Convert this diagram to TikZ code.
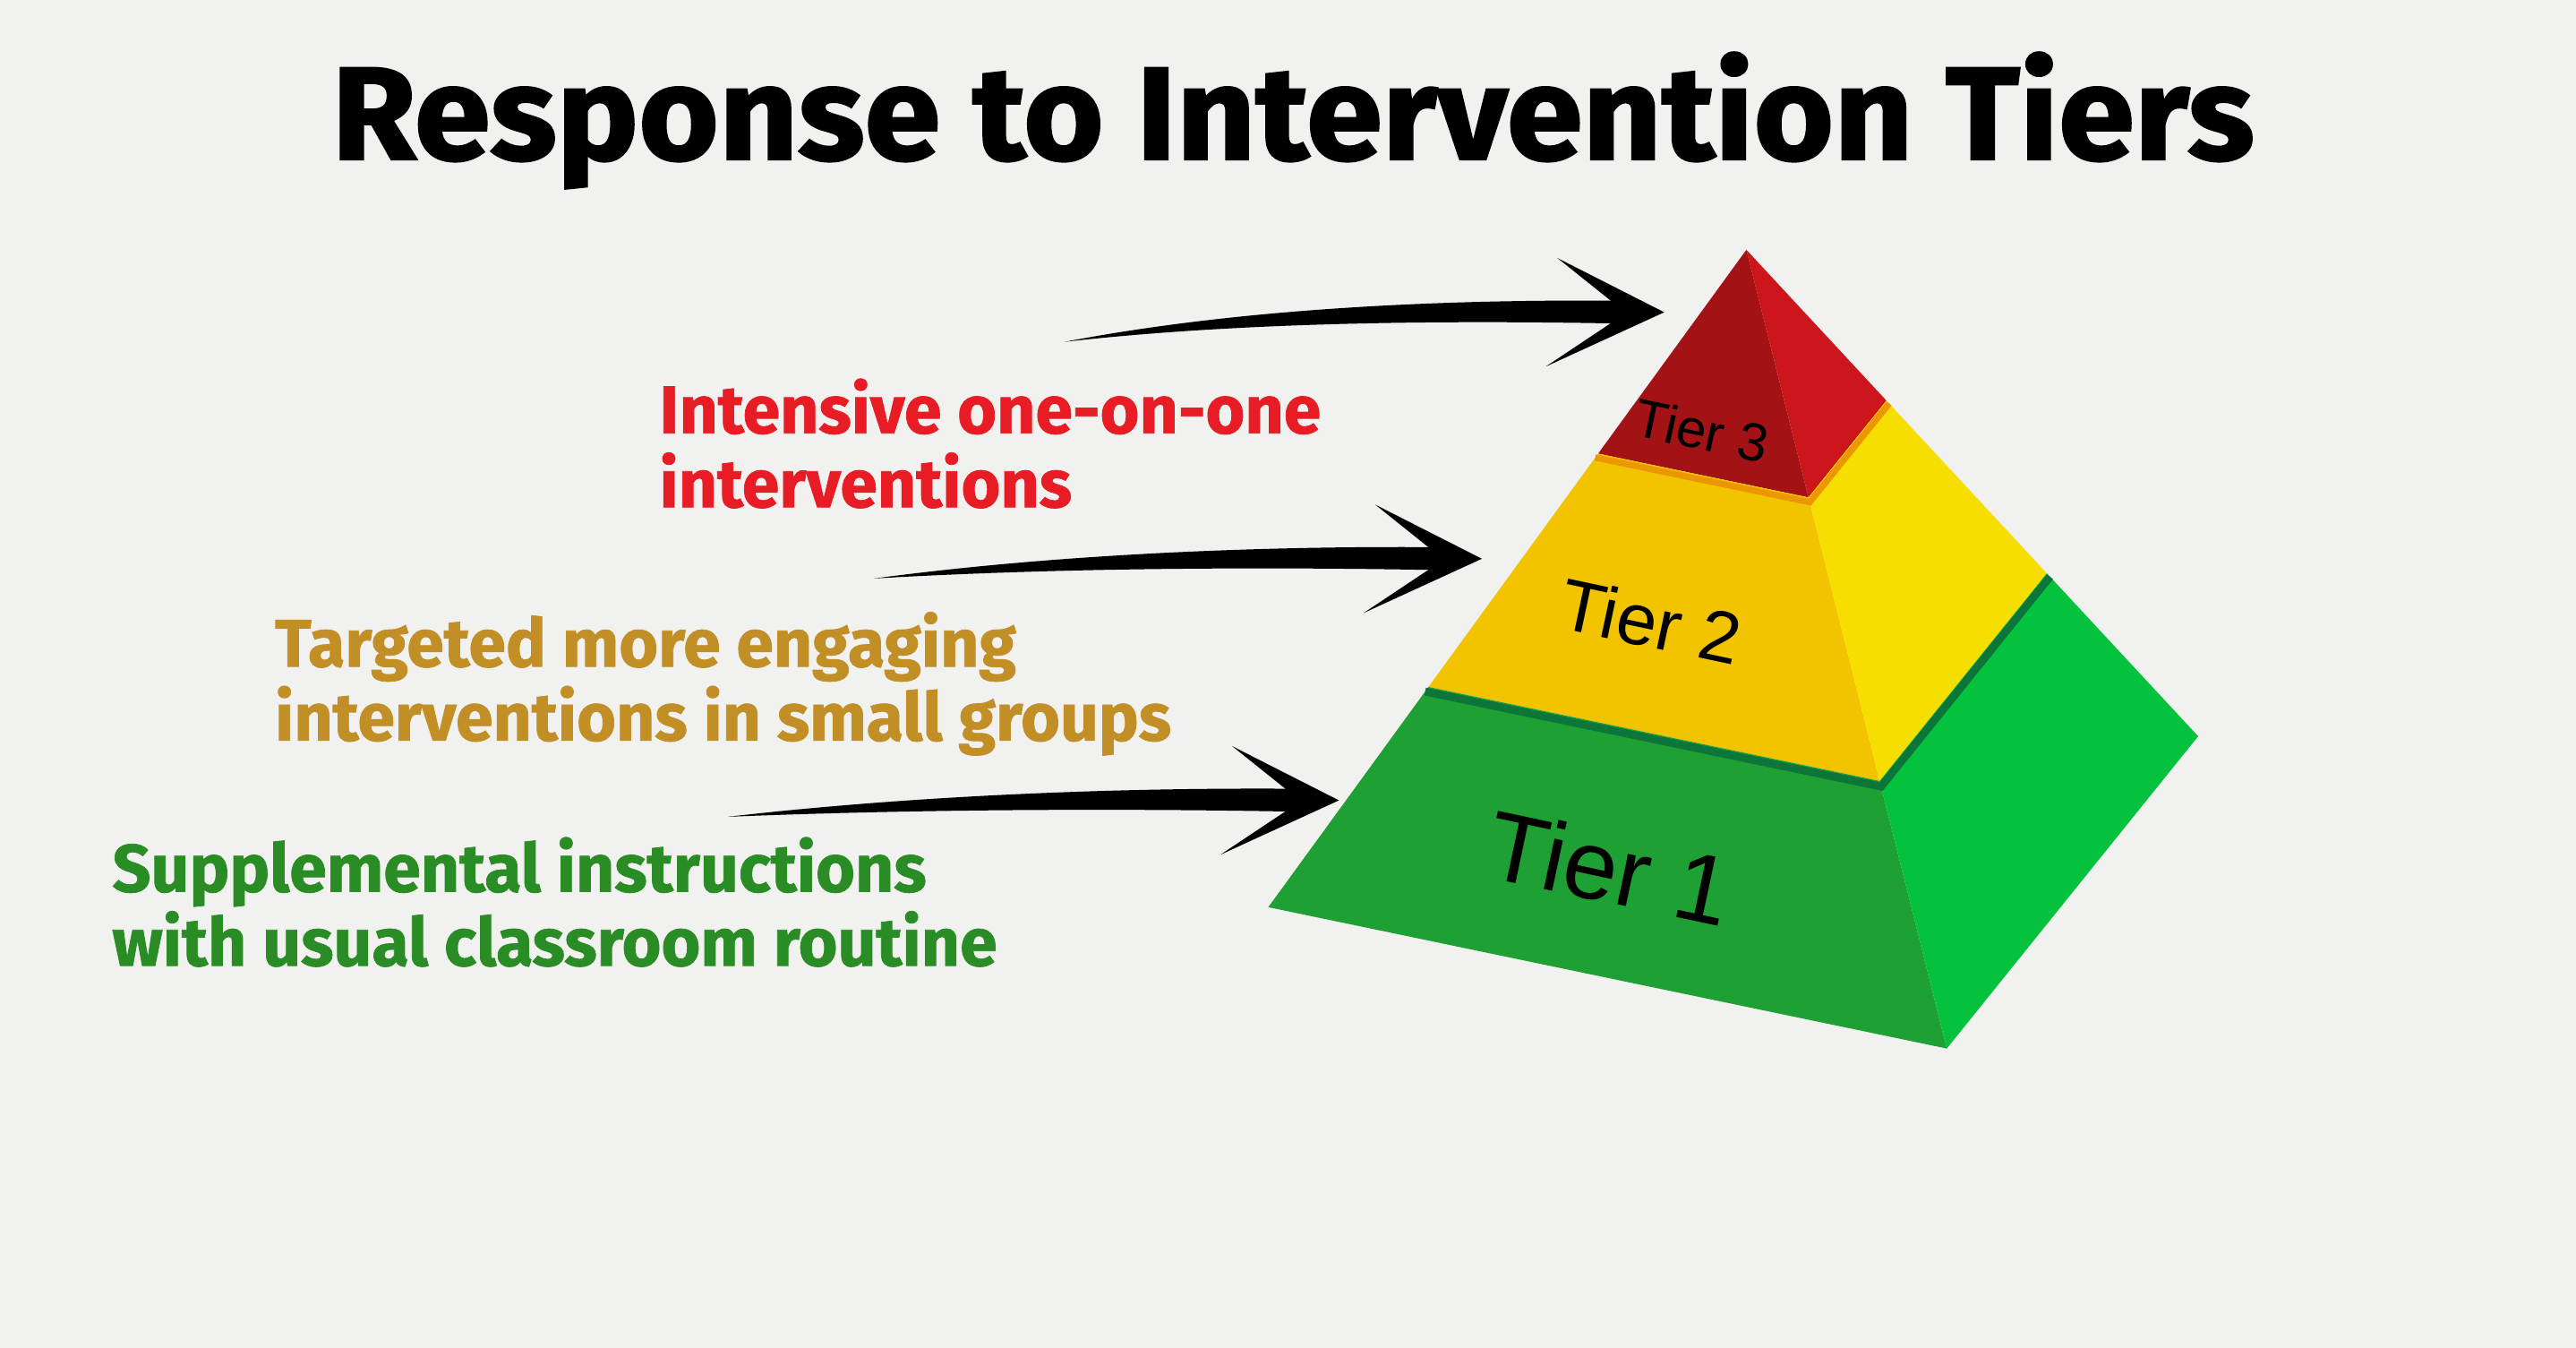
\documentclass[tikz,border=0pt]{standalone}
\usepackage{fontspec}
\usepackage{tikz}
\usetikzlibrary{calc}
\setmainfont{Liberation Sans}
\newfontfamily\headfont[FakeStretch=1.04, FakeBold=1.5]{Fira Sans}
\newfontfamily\notefont[FakeBold=1]{Fira Sans}
\definecolor{paper}{RGB}{241,241,239}
\definecolor{redL}{RGB}{163,18,20}
\definecolor{redR}{RGB}{204,22,28}
\definecolor{yelL}{RGB}{242,196,0}
\definecolor{yelR}{RGB}{246,222,0}
\definecolor{grnL}{RGB}{30,160,52}
\definecolor{grnR}{RGB}{4,194,62}
\definecolor{bandO}{RGB}{236,150,0}
\definecolor{bandG}{RGB}{12,118,58}
\definecolor{noteRed}{RGB}{232,28,36}
\definecolor{noteGold}{RGB}{194,142,38}
\definecolor{noteGreen}{RGB}{42,140,36}

\begin{document}
\begin{tikzpicture}[x=0.01835cm, y=-0.01835cm,
  tierlabel/.style={inner sep=0, rotate=-12, text=black},
  note/.style={anchor=north west, inner sep=0, align=left,
    font=\notefont\bfseries\fontsize{21.4}{23.5}\selectfont},
  brush/.style={fill=black}]

  % Paper
  \fill[paper] (0,0) rectangle (1568,820);
  \useasboundingbox (0,0) rectangle (1568,820);

  % Title
  \node[font=\headfont\bfseries\fontsize{42}{42}\selectfont, anchor=base] (title) at (787,97) {Response to Intervention Tiers};

  % Pyramid corners
  \coordinate (apex) at (1063,152);
  \coordinate (L) at (772,552);
  \coordinate (F) at (1185,638);
  \coordinate (R) at (1338,448);

  % Tiers
  \foreach \s/\e/\cl/\cr in {0/0.31/redL/redR, 0.31/0.665/yelL/yelR, 0.665/1/grnL/grnR} {
    \fill[\cl] ($(apex)!\s!(L)$) -- ($(apex)!\s!(F)$) -- ($(apex)!\e!(F)$) -- ($(apex)!\e!(L)$) -- cycle;
    \fill[\cr] ($(apex)!\s!(F)$) -- ($(apex)!\s!(R)$) -- ($(apex)!\e!(R)$) -- ($(apex)!\e!(F)$) -- cycle;
  }

  % Bands
  \draw[bandO, line width=2pt] ($(apex)!0.316!(L)$) -- ($(apex)!0.316!(F)$) -- ($(apex)!0.316!(R)$);
  \draw[bandG, line width=2.5pt] ($(apex)!0.672!(L)$) -- ($(apex)!0.672!(F)$) -- ($(apex)!0.672!(R)$);

  % Tier labels
  \node[tierlabel, font=\fontsize{17}{17}\selectfont] (t3) at (1036,262) {Tier 3};
  \node[tierlabel, font=\fontsize{23}{23}\selectfont] (t2) at (1005,378) {Tier 2};
  \node[tierlabel, font=\fontsize{31}{31}\selectfont] (t1) at (980,528) {Tier 1};

  % Notes
  \node[note, text=noteRed] (n3) at (401,230) {Intensive one-on-one\\interventions};
  \node[note, text=noteGold] (n2) at (167,372) {Targeted more engaging\\interventions in small groups};
  \node[note, text=noteGreen] (n1) at (68,509) {Supplemental instructions\\with usual classroom routine};

  % Arrows
  \foreach \n/\tx/\ty/\hx/\hy in {3/648/208/1013/190, 2/532/352/902/340, 1/443/497/815/487} {
    \coordinate (tail\n) at (\tx,\ty);
    \coordinate (tip\n) at (\hx,\hy);
    \fill[brush] (tail\n) .. controls ($(tip\n)+(-250,-4)$) and ($(tip\n)+(-120,-8)$) .. ($(tip\n)+(-20,-7)$)
      -- ($(tip\n)+(-20,7)$) .. controls ($(tip\n)+(-120,5)$) and ($(tip\n)+(-250,5)$) .. (tail\n) -- cycle;
    \fill[brush] ($(tip\n)+(-65,-33)$) -- (tip\n) -- ($(tip\n)+(-72,33)$) -- ($(tip\n)+(-30,5)$) -- ($(tip\n)+(-30,-5)$) -- cycle;
  }
\end{tikzpicture}
\end{document}
